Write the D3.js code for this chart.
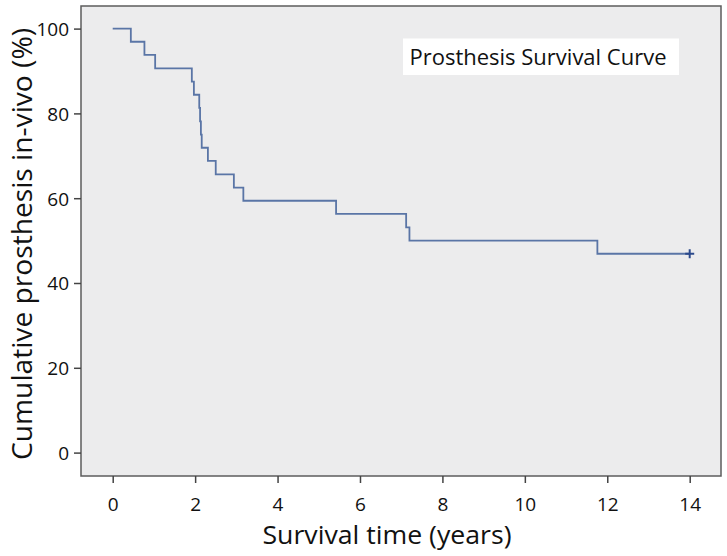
<!DOCTYPE html>
<html>
<head>
<meta charset="utf-8">
<script src="https://cdn.jsdelivr.net/npm/d3@7"></script>
<style>
  html, body { margin: 0; padding: 0; background: #ffffff; }
  svg { display: block; }
  text { font-family: "Open Sans", "Noto Sans", sans-serif; fill: #111; }
</style>
</head>
<body>
<svg id="chart" width="727" height="556"></svg>
<script>
// ---- data ----
const times    = [0, 0.44, 0.77, 1.03, 1.92, 1.97, 2.10, 2.12, 2.14, 2.16, 2.31, 2.50, 2.94, 3.17, 5.42, 7.12, 7.20, 11.76, 14.0];
const survival = [100, 96.9, 93.8, 90.6, 87.5, 84.4, 81.3, 78.1, 75.0, 71.9, 68.8, 65.6, 62.5, 59.4, 56.3, 53.1, 50.0, 46.9, 46.9];
const censoredTimes = [14.0];
const censoredSurv  = [46.9];
const xTicks = [0, 2, 4, 6, 8, 10, 12, 14];
const yTicks = [0, 20, 40, 60, 80, 100];
const xTitle = "Survival time (years)";
const yTitle = "Cumulative prosthesis in-vivo (%)";
const legendLabel = "Prosthesis Survival Curve";

const svg = d3.select("#chart");
const frame = { left: 81, right: 721, top: 6, bottom: 476 };

const x = d3.scaleLinear().domain([0, 14]).range([112.7, 689.7]);
const y = d3.scaleLinear().domain([0, 100]).range([452.6, 28.6]);

// plot background + frame
svg.append("rect")
  .attr("x", frame.left).attr("y", frame.top)
  .attr("width", frame.right - frame.left).attr("height", frame.bottom - frame.top)
  .attr("fill", "#ececed").attr("stroke", "#5c5c5c").attr("stroke-width", 1.5);

// axes
const yAxis = svg.append("g").attr("transform", `translate(${frame.left},0)`)
  .call(d3.axisLeft(y).tickValues(yTicks).tickSize(7).tickPadding(5).tickFormat(d3.format("d")));
const xAxis = svg.append("g").attr("transform", `translate(0,${frame.bottom})`)
  .call(d3.axisBottom(x).tickValues(xTicks).tickSize(7).tickPadding(15).tickFormat(d3.format("d")));
[yAxis, xAxis].forEach(g => {
  g.select(".domain").remove();
  g.selectAll(".tick line").attr("stroke", "#444").attr("stroke-width", 1.5);
  g.selectAll(".tick text").style("font-size", "19px").attr("fill", "#111")
    .style("font-family", "'Open Sans', sans-serif");
});
yAxis.selectAll(".tick text").attr("dy", "0.36em");
xAxis.selectAll(".tick text").attr("dy", "0.71em");

// survival step curve
const pts = times.map((t, i) => [t, survival[i]]);
svg.append("path")
  .datum(pts)
  .attr("fill", "none")
  .attr("stroke", "#5a75a6")
  .attr("stroke-width", 1.8)
  .attr("d", d3.line().x(d => x(d[0])).y(d => y(d[1])).curve(d3.curveStepAfter));

// censor marks
const cm = svg.append("g");
censoredTimes.forEach((t, i) => {
  const cx = x(t), cy = y(censoredSurv[i]);
  cm.append("line").attr("x1", cx - 4.5).attr("x2", cx + 4.5).attr("y1", cy).attr("y2", cy)
    .attr("stroke", "#2c4a8c").attr("stroke-width", 2);
  cm.append("line").attr("x1", cx).attr("x2", cx).attr("y1", cy - 4.5).attr("y2", cy + 4.5)
    .attr("stroke", "#2c4a8c").attr("stroke-width", 2);
});

// legend box
svg.append("rect")
  .attr("x", 403).attr("y", 38.5).attr("width", 276).attr("height", 36.5)
  .attr("fill", "#ffffff");
svg.append("text")
  .attr("x", 409.5).attr("y", 65)
  .style("font-size", "21px")
  .attr("textLength", 257).attr("lengthAdjust", "spacingAndGlyphs")
  .text(legendLabel);

// axis titles
svg.append("text")
  .attr("x", 387).attr("y", 544)
  .attr("text-anchor", "middle")
  .style("font-size", "26px")
  .attr("textLength", 249).attr("lengthAdjust", "spacingAndGlyphs")
  .text(xTitle);

svg.append("text")
  .attr("transform", "translate(32,244) rotate(-90)")
  .attr("text-anchor", "middle")
  .style("font-size", "27px")
  .attr("textLength", 432).attr("lengthAdjust", "spacingAndGlyphs")
  .text(yTitle);
</script>
</body>
</html>
